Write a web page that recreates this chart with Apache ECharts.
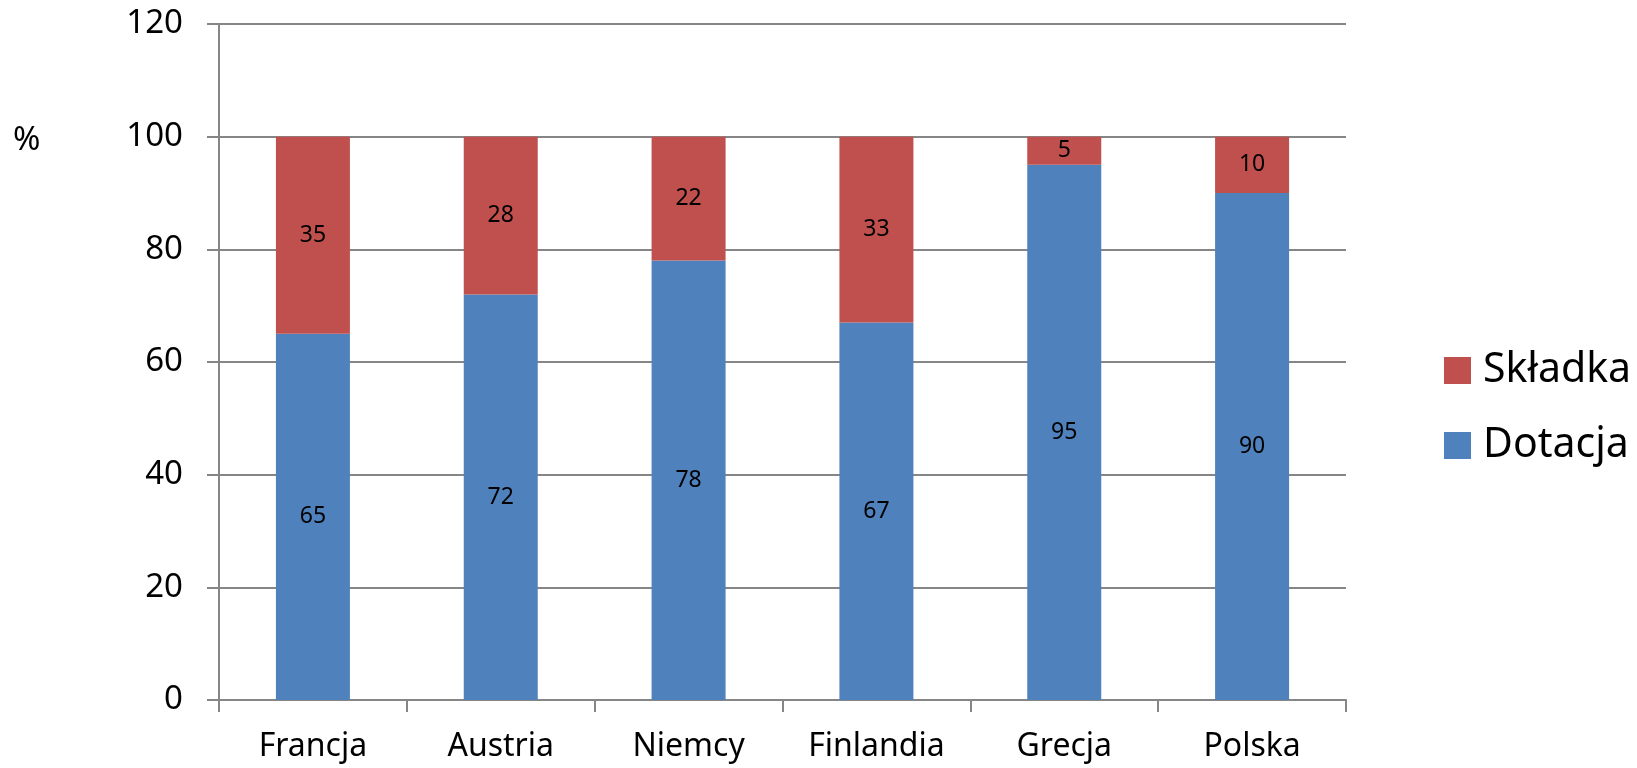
<!DOCTYPE html>
<html>
<head>
<meta charset="utf-8">
<script src="https://cdn.jsdelivr.net/npm/echarts@6/dist/echarts.min.js"></script>
<style>html,body{margin:0;padding:0;background:#fff;}#c{width:1637px;height:768px;}</style>
</head>
<body>
<div id="c"></div>
<script>
const categories = ['Francja', 'Austria', 'Niemcy', 'Finlandia', 'Grecja', 'Polska'];
const dotacja = [65, 72, 78, 67, 95, 90];
const skladka = [35, 28, 22, 33, 5, 10];
const yTicks = { min: 0, max: 120, interval: 20 };

const FONT = 'Noto Sans';
const chart = echarts.init(document.getElementById('c'));
chart.setOption({
  animation: false,
  backgroundColor: '#ffffff',
  textStyle: { fontFamily: FONT },
  grid: { left: 219, right: 291, top: 24, bottom: 68, containLabel: false },
  legend: {
    orient: 'vertical',
    left: 1439,
    top: 345,
    itemWidth: 27,
    itemHeight: 27,
    itemGap: 34,
    icon: 'rect',
    data: ['Składka', 'Dotacja'],
    textStyle: { fontFamily: FONT, fontSize: 41, color: '#000', lineHeight: 40, padding: [0, 0, 0, 7] }
  },
  graphic: [{
    type: 'text', left: 13, top: 124,
    style: { text: '%', font: '33px "Noto Sans"', fill: '#000' }
  }],
  xAxis: {
    type: 'category',
    data: categories,
    axisLine: { lineStyle: { color: '#868686', width: 2 } },
    axisTick: { show: true, length: 12, lineStyle: { color: '#868686', width: 2 } },
    axisLabel: { fontFamily: FONT, fontSize: 32, color: '#000', margin: 31 }
  },
  yAxis: {
    type: 'value',
    min: yTicks.min, max: yTicks.max, interval: yTicks.interval,
    axisLine: { show: true, lineStyle: { color: '#868686', width: 2 } },
    axisTick: { show: true, length: 12, lineStyle: { color: '#868686', width: 2 } },
    splitLine: { lineStyle: { color: '#868686', width: 2 } },
    axisLabel: { fontFamily: FONT, fontSize: 33, color: '#000', margin: 36 }
  },
  series: [
    {
      name: 'Dotacja', type: 'bar', stack: 's', data: dotacja, barWidth: 74,
      itemStyle: { color: '#4F81BD' },
      label: { show: true, position: 'inside', color: '#000', fontFamily: FONT, fontSize: 23 }
    },
    {
      name: 'Składka', type: 'bar', stack: 's', data: skladka, barWidth: 74,
      itemStyle: { color: '#C0504D' },
      label: { show: true, position: 'inside', color: '#000', fontFamily: FONT, fontSize: 23 }
    }
  ]
});
</script>
</body>
</html>
